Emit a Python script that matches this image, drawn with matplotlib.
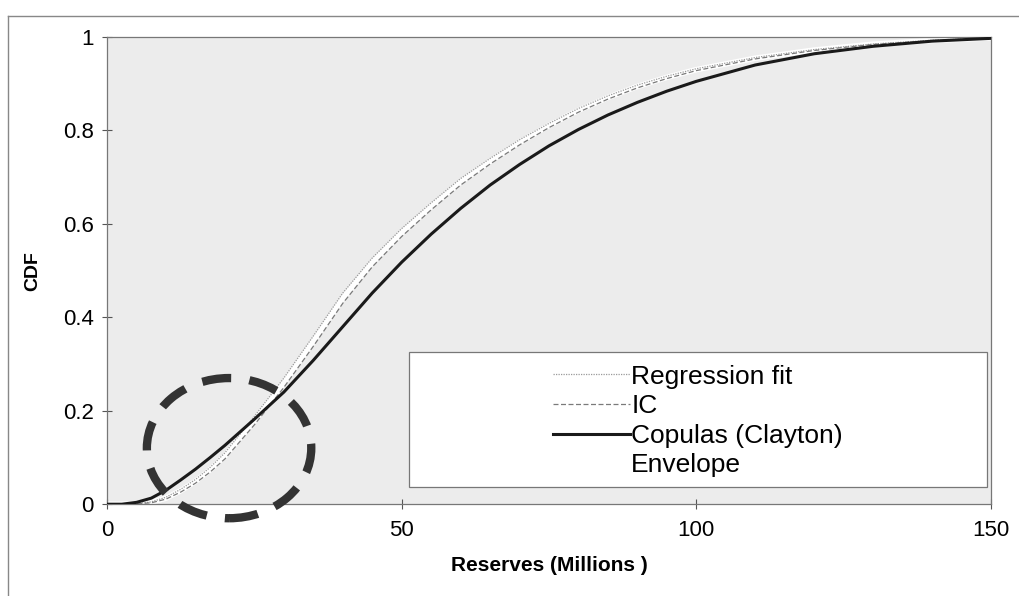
import matplotlib.pyplot as plt
from matplotlib.patches import Ellipse, Rectangle
from matplotlib.lines import Line2D
from matplotlib.ticker import FuncFormatter

# DATA #
x_copula = [0, 2.5, 5, 7.5, 10, 12.5, 15, 17.5, 20, 25, 30, 35, 40, 45, 50, 55, 60, 65, 70,
            75, 80, 85, 90, 95, 100, 110, 120, 130, 140, 150]
y_copula = [0, 0.0, 0.004, 0.013, 0.03, 0.052, 0.075, 0.1, 0.126, 0.182, 0.24, 0.308, 0.38,
            0.452, 0.518, 0.578, 0.633, 0.683, 0.727, 0.767, 0.802, 0.833, 0.86, 0.884, 0.905,
            0.94, 0.964, 0.98, 0.991, 0.997]

x_fit = [0, 2.5, 5, 7.5, 10, 12.5, 15, 17.5, 20, 25, 30, 35, 40, 45, 50, 55, 60, 65, 70,
         75, 80, 85, 90, 95, 100, 110, 120, 130, 140, 150]
y_regression = [0, 0.0, 0.001, 0.005, 0.015, 0.032, 0.053, 0.079, 0.11, 0.188, 0.27,
                0.36, 0.452, 0.527, 0.59, 0.645, 0.697, 0.74, 0.78, 0.815, 0.847, 0.874,
                0.897, 0.916, 0.932, 0.956, 0.973, 0.985, 0.993, 0.998]
y_ic = [0, 0.0, 0.001, 0.003, 0.011, 0.026, 0.045, 0.069, 0.097, 0.17, 0.25, 0.338,
        0.43, 0.508, 0.573, 0.63, 0.683, 0.728, 0.769, 0.806, 0.839, 0.867, 0.891, 0.911,
        0.928, 0.953, 0.971, 0.984, 0.992, 0.998]

x_ticks = [0, 50, 100, 150]
y_ticks = [0, 0.2, 0.4, 0.6, 0.8, 1]

plt.rcParams['font.family'] = ['Liberation Sans', 'DejaVu Sans']

fig = plt.figure(figsize=(10.2, 5.96), dpi=100)
ax = fig.add_axes([0.105, 0.154, 0.8665, 0.784])
ax.set_facecolor('#ececec')

# envelope drawn as white band between the two light curves
ax.plot(x_fit, [(a + b) / 2 for a, b in zip(y_regression, y_ic)], color='white', lw=4,
        label='Envelope', zorder=2)
ax.plot(x_fit, y_regression, color='#9a9a9a', lw=0.9, ls=(0, (1, 1)), label='Regression fit', zorder=3)
ax.plot(x_fit, y_ic, color='#7a7a7a', lw=0.9, ls=(0, (4, 2)), label='IC', zorder=3)
ax.plot(x_copula, y_copula, color='#1a1a1a', lw=2.2, label='Copulas (Clayton)', zorder=4)

ax.set_xlim(0, 150)
ax.set_ylim(0, 1)
ax.set_xticks(x_ticks)
ax.set_yticks(y_ticks)
ax.yaxis.set_major_formatter(FuncFormatter(lambda v, p: f"{v:g}"))
ax.tick_params(direction='inout', length=7, width=0.8, color='#555555', labelsize=16)
ax.tick_params(axis='x', pad=8)
ax.tick_params(axis='y', pad=6)
for s in ax.spines.values():
    s.set_color('#777777')
    s.set_linewidth(0.9)

ax.set_xlabel('Reserves (Millions )', fontsize=15, fontweight='bold', labelpad=11)
ax.set_ylabel('CDF', fontsize=14, fontweight='bold', labelpad=16)

# legend box
ax.add_patch(Rectangle((0.342, 0.036), 0.653, 0.289, transform=ax.transAxes,
                       facecolor='white', edgecolor='#777777', lw=0.9, zorder=5))
handles = [
    Line2D([], [], color='#9a9a9a', lw=0.9, ls=(0, (1, 1))),
    Line2D([], [], color='#7a7a7a', lw=0.9, ls=(0, (4, 2))),
    Line2D([], [], color='#1a1a1a', lw=2.2),
    Line2D([], [], color='white', lw=3),
]
labels = ['Regression fit', 'IC', 'Copulas (Clayton)', 'Envelope']
leg = ax.legend(handles, labels, loc='center left', bbox_to_anchor=(0.505, 0.178),
                frameon=False, fontsize=19, handlelength=2.9, handletextpad=0.05,
                labelspacing=0.21, borderpad=0, borderaxespad=0)
leg.set_zorder(6)

# dashed ellipse highlighting the lower tail
ax.add_patch(Ellipse((20.7, 0.12), 27.9, 0.30, fill=False, edgecolor='#333333', lw=6,
                     ls=(0, (3.5, 2.2)), clip_on=False, zorder=7))

# outer frame of the scanned figure
fig.add_artist(Line2D([0.008, 1.0], [0.973, 0.973], color='#888888', lw=1, transform=fig.transFigure))
fig.add_artist(Line2D([0.008, 0.008], [0.0, 0.973], color='#888888', lw=1, transform=fig.transFigure))

fig.savefig('out.png', dpi=100)
